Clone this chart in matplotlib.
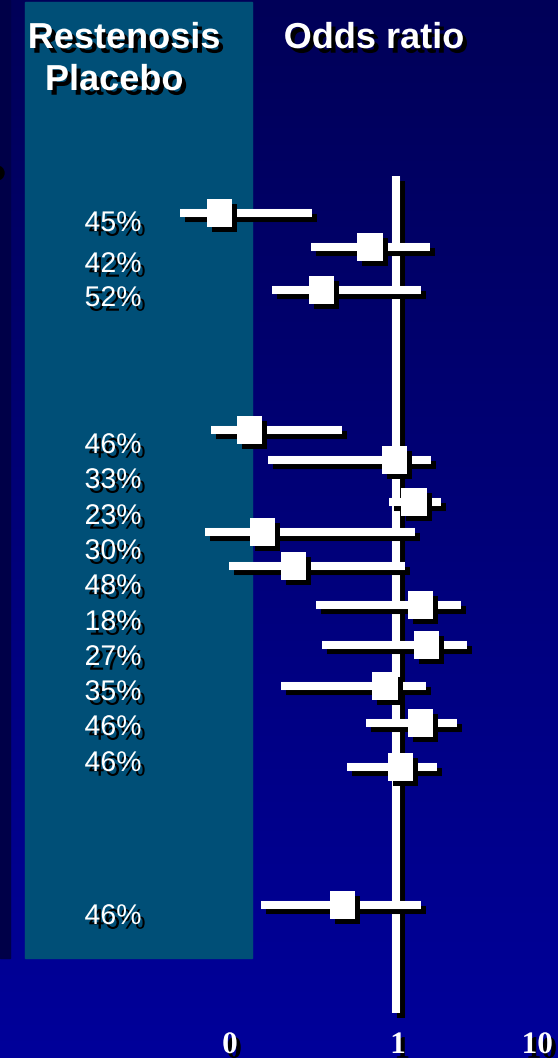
import numpy as np
import matplotlib.pyplot as plt
import matplotlib.patheffects as pe
from matplotlib.patches import Rectangle, Circle

# restenosis rate in the placebo arm (%) and odds ratios with 95% CI
placebo_rate = [45, 42, 52, 46, 33, 23, 30, 48, 18, 27, 35, 46, 46, 46]
odds_ratio = [0.089, 0.70, 0.36, 0.134, 0.98, 1.28, 0.161, 0.247, 1.39, 1.51, 0.86, 1.39, 1.06, 0.48]
ci_low = [0.052, 0.31, 0.183, 0.079, 0.173, 0.91, 0.073, 0.101, 0.334, 0.363, 0.207, 0.663, 0.511, 0.157]
ci_high = [0.316, 1.59, 1.41, 0.477, 1.61, 1.85, 1.30, 1.13, 2.44, 2.65, 1.51, 2.31, 1.75, 1.41]
tick_labels = ["0", "1", "10"]

# layout (pixels from top) of each trial row and its label
row_y = [213, 247, 290, 430, 460, 502, 532, 566, 605, 645, 686, 723, 767, 905]
label_base = [231, 272, 306, 453, 488, 524, 559, 594, 630, 665, 700, 735, 771, 924]

W, H = 558, 1058
fig = plt.figure(figsize=(W / 100, H / 100), dpi=100)

# background: vertical navy gradient, dark strip at the left, teal column
bg = fig.add_axes([0, 0, 1, 1], zorder=0)
grad = np.linspace(0, 1, 256).reshape(-1, 1)
c_top = np.array([0x00, 0x00, 0x58]) / 255
c_bot = np.array([0x00, 0x00, 0x9a]) / 255
img = c_top + grad[..., None] * (c_bot - c_top)
bg.imshow(img, extent=[0, W, H, 0], aspect="auto")
bg.add_patch(Rectangle((0, 0), 10, 958, color="#000048"))
bg.add_patch(Rectangle((25, 2), 227, 956, color="#004f77"))
bg.add_patch(Circle((-3, 173), 7, color="black"))
bg.set_xlim(0, W)
bg.set_ylim(H, 0)
bg.axis("off")

# forest plot on a log odds-ratio scale, 1 -> x=396 px, 168 px per decade
ax = fig.add_axes([0, 0, 1, 1], zorder=1)
ax.patch.set_alpha(0)
ax.set_xscale("log")
ax.set_xlim(10 ** (-396 / 168), 10 ** ((W - 396) / 168))
ax.set_ylim(H, 0)
ax.axis("off")

sh = 3.6
shadow_line = [pe.SimpleLineShadow(offset=(sh, -sh), shadow_color="black", alpha=1), pe.Normal()]
shadow_patch = [pe.SimplePatchShadow(offset=(sh, -sh), shadow_rgbFace="black", alpha=1), pe.Normal()]

ax.plot([1, 1], [176, 1013], color="white", lw=5.8, solid_capstyle="butt",
        path_effects=shadow_line, zorder=1)
for i in range(len(odds_ratio)):
    ax.plot([ci_low[i], ci_high[i]], [row_y[i], row_y[i]], color="white", lw=5.8,
            solid_capstyle="butt", path_effects=shadow_line, zorder=2)

# boxes are a little taller than wide
bw = 25 / 28
box = [(-bw, -1), (bw, -1), (bw, 1), (-bw, 1), (-bw, -1)]
ax.plot(odds_ratio, row_y, linestyle="none", marker=box, ms=20.2, mfc="white", mew=0,
        path_effects=shadow_patch, zorder=3)

tshadow = [pe.SimplePatchShadow(offset=(3.0, -3.4), shadow_rgbFace="black", alpha=1), pe.Normal()]

def fy(px):
    return 1 - px / H

for r, yb in zip(placebo_rate, label_base):
    fig.text(113 / W, fy(yb), f"{r}%", color="white", fontsize=20.5, family="Liberation Sans",
             ha="center", va="baseline", path_effects=tshadow, zorder=5)

hdr = dict(color="white", fontsize=26, family="Liberation Sans", weight="bold",
           va="baseline", ha="center", path_effects=tshadow, zorder=5)
fig.text(124 / W, fy(48), "Restenosis", **hdr)
fig.text(114 / W, fy(90), "Placebo", **hdr)
fig.text(374 / W, fy(48), "Odds ratio", **hdr)

tk = dict(color="white", fontsize=22.5, family="Liberation Serif", weight="bold",
          va="baseline", path_effects=tshadow, zorder=5)
fig.text(230 / W, fy(1053), tick_labels[0], ha="center", **tk)
fig.text(398 / W, fy(1053), tick_labels[1], ha="center", **tk)
fig.text(553 / W, fy(1053), tick_labels[2], ha="right", **tk)

fig.savefig("out.png", dpi=100)
